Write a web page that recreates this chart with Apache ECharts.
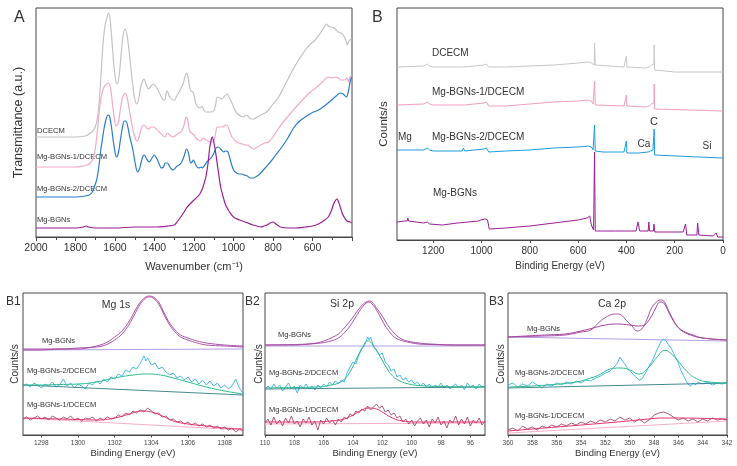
<!DOCTYPE html>
<html><head><meta charset="utf-8">
<script src="https://cdn.jsdelivr.net/npm/echarts@6/dist/echarts.min.js"></script>
<style>html,body{margin:0;padding:0;background:#fff}#c{width:737px;height:466px}</style>
</head><body><div id="c"></div>
<script>
// ---------- Panel A: FTIR (wavenumber, relative transmittance) ----------
const A_dcecm = [[2000,100],[1900,100],[1800,100],[1750,101],[1730,103],[1712,106],[1700,110],[1690,118],[1680,135],[1670,165],[1660,195],[1650,212],[1640,220],[1633,224],[1625,218],[1615,195],[1605,170],[1595,155],[1590,153],[1580,160],[1570,180],[1560,200],[1550,208],[1540,203],[1530,188],[1520,170],[1510,152],[1500,138],[1490,133],[1480,138],[1470,150],[1460,156],[1452,158],[1442,152],[1430,148],[1418,151],[1405,153],[1395,151],[1385,148],[1375,144],[1365,140],[1355,137],[1348,137],[1340,145],[1335,146],[1328,142],[1318,139],[1308,137],[1298,137],[1288,141],[1278,144],[1265,149],[1255,153],[1246,160],[1238,164],[1230,160],[1222,150],[1215,146],[1205,145],[1198,140],[1190,133],[1180,130],[1170,129],[1160,131],[1150,127],[1140,125],[1120,125],[1100,126],[1090,133],[1083,140],[1070,139],[1058,138],[1045,141],[1033,143],[1020,139],[1008,134],[995,128],[983,124],[965,121],[950,120],[935,122],[922,120],[910,118],[897,118],[880,120],[862,122],[840,124],[822,127],[800,133],[771,140],[745,150],[721,159],[700,167],[671,177],[650,183],[637,187],[610,193],[586,197],[560,204],[540,210],[530,213],[520,211],[505,210],[490,209],[470,205],[455,204],[444,202],[432,197],[424,192],[416,196],[410,197],[402,199]];
const A_mg1 = [[2000,70],[1900,70],[1800,70],[1760,71],[1740,72],[1725,74],[1712,78],[1700,88],[1690,105],[1680,125],[1670,140],[1660,148],[1648,152],[1633,154],[1622,148],[1612,132],[1603,118],[1595,111],[1585,113],[1575,125],[1565,137],[1555,143],[1547,144],[1537,138],[1525,124],[1512,110],[1500,100],[1488,96],[1478,100],[1468,108],[1458,112],[1451,112],[1440,109],[1430,108],[1418,110],[1405,110],[1392,108],[1380,106],[1365,103],[1350,100],[1345,100],[1337,104],[1328,103],[1318,101],[1305,100],[1290,102],[1275,104],[1262,106],[1250,112],[1240,120],[1232,117],[1222,106],[1212,104],[1200,102],[1190,99],[1178,97],[1165,96],[1155,99],[1145,98],[1130,96],[1115,95],[1100,96],[1090,104],[1083,110],[1070,110],[1055,110],[1040,112],[1033,112],[1020,106],[1008,100],[990,96],[975,94],[955,93],[940,92],[930,92],[915,90],[897,88],[880,90],[862,92],[840,94],[822,95],[800,100],[771,109],[740,117],[705,125],[670,133],[637,140],[610,145],[578,150],[550,155],[520,160],[500,159],[485,160],[470,159],[455,157],[437,157],[425,159],[418,155],[410,160],[402,161]];
const A_mg2 = [[2000,40],[1900,40],[1800,40],[1750,41],[1730,42],[1715,45],[1705,50],[1693,57],[1682,70],[1672,87],[1662,100],[1655,109],[1645,118],[1635,122],[1628,121],[1618,110],[1608,95],[1598,83],[1592,80],[1582,85],[1572,98],[1562,110],[1553,116],[1545,116],[1535,110],[1525,100],[1510,88],[1498,74],[1486,65],[1476,68],[1466,76],[1458,81],[1451,82],[1440,78],[1426,75],[1413,79],[1400,82],[1390,79],[1378,74],[1366,69],[1355,70],[1345,74],[1335,74],[1325,71],[1315,68],[1305,67],[1295,69],[1285,71],[1275,72],[1262,75],[1250,81],[1238,88],[1228,84],[1217,74],[1210,75],[1203,77],[1195,74],[1185,70],[1175,69],[1165,70],[1158,69],[1145,72],[1135,75],[1124,77],[1110,80],[1099,84],[1088,89],[1077,90],[1065,88],[1050,85],[1040,86],[1028,85],[1015,76],[1000,67],[985,64],[970,63],[958,63],[945,62],[930,61],[916,59],[900,59],[880,61],[862,64],[840,69],[813,75],[790,81],[755,90],[725,99],[696,109],[665,116],[637,120],[605,124],[570,127],[540,131],[503,137],[480,141],[461,144],[445,143],[428,140],[418,146],[410,155],[402,160]];
const A_bgn = [[2000,9],[1900,9],[1800,9],[1760,10],[1745,11],[1735,10],[1700,9],[1600,9],[1500,10],[1400,10],[1330,11],[1300,12],[1290,14],[1275,18],[1260,22],[1250,25],[1238,29],[1225,32],[1200,37],[1174,42],[1160,47],[1150,53],[1140,60],[1130,72],[1120,90],[1112,98],[1107,100],[1100,95],[1090,84],[1080,70],[1065,50],[1052,40],[1040,32],[1020,25],[1000,20],[970,17],[941,15],[900,12],[862,10],[845,11],[830,12],[815,14],[800,15],[785,13],[763,10],[720,9],[688,9],[637,10],[600,11],[570,13],[545,16],[520,20],[505,26],[491,34],[482,37],[475,38],[468,35],[458,29],[448,23],[437,19],[425,16],[410,15],[402,14]];

// ---------- Panel B: XPS survey (binding energy, counts) ----------
const B_dcecm = [[1350,173],[1240,174],[1225,176],[1215,174],[1200,173],[1080,173],[1075,175],[1070,173],[990,175],[980,176],[970,173],[964,172],[900,173],[800,174],[700,175],[600,177],[558,178],[545,177],[538,175],[533,175],[532,197],[530,197],[529,175],[525,173],[410,173],[402,173],[400,184],[398,173],[320,172],[305,173],[296,175],[290,176],[286,176],[285,195],[284,195],[283,170],[280,168],[200,168],[0,168]];
const B_mg1 = [[1350,135],[1240,136],[1225,138],[1215,136],[1200,135],[1080,135],[1075,137],[1070,135],[990,137],[980,138],[970,134],[964,133],[900,134],[800,136],[700,138],[600,139],[558,140],[545,139],[538,136],[533,136],[532,159],[530,159],[529,135],[525,134],[410,134],[402,134],[400,145],[398,134],[320,133],[305,134],[296,136],[290,137],[286,137],[285,156],[284,156],[283,131],[280,129],[0,129]];
const B_mg2 = [[1350,90],[1240,90],[1225,92],[1215,90],[1200,89],[1080,89],[1075,92],[1070,89],[990,91],[980,92],[970,88],[964,88],[900,89],[800,90],[700,92],[600,93],[558,94],[545,93],[538,90],[533,90],[532,115],[530,115],[529,89],[525,88],[497,88],[495,90],[493,88],[410,88],[402,88],[400,99],[398,87],[350,87],[347,88],[344,87],[310,88],[300,89],[290,90],[286,91],[285,111],[284,111],[283,85],[280,84],[100,83],[0,82]];
const B_bgn = [[1350,18],[1320,19],[1308,19],[1305,22],[1302,19],[1240,17],[1225,18],[1215,16],[1162,15],[1100,17],[1013,19],[1003,20],[1000,22],[995,20],[985,21],[980,23],[975,20],[968,11],[900,12],[800,14],[700,17],[600,20],[563,22],[552,24],[545,15],[536,10],[533,10],[532,88],[530,88],[529,9],[520,9],[445,9],[440,11],[435,9],[360,9],[352,18],[348,18],[345,9],[310,9],[307,18],[304,9],[288,9],[286,16],[284,16],[282,8],[165,8],[160,8],[155,16],[153,16],[150,5],[108,5],[105,17],[103,17],[100,5],[40,4],[28,7],[25,7],[22,3],[0,3]];

// ---------- Panel B1: Mg 1s ----------
const B1_bgnData = [[1297,85],[1298,85],[1299,86],[1300,86],[1300.5,87],[1301,89],[1301.5,92],[1302,98],[1302.4,104],[1302.8,114],[1303.1,124],[1303.4,133],[1303.7,138],[1303.9,139],[1304.1,138],[1304.4,133],[1304.7,122],[1305,112],[1305.3,105],[1305.6,100],[1306,97],[1306.5,94],[1307,92],[1308,90],[1309,89]];
const B1_bgnFit = [[1297,86],[1298,86],[1299,86],[1300,87],[1301,88],[1301.5,90],[1302,95],[1302.4,101],[1302.8,111],[1303.1,121],[1303.4,131],[1303.7,137],[1303.9,138],[1304.1,137],[1304.4,131],[1304.7,120],[1305,110],[1305.3,103],[1305.6,98],[1306,95],[1306.5,92],[1307,90],[1308,89],[1309,88]];
const B1_bgnBase = [[1297,85],[1309,86]];
const B1_mg2Data = [[1297,49],[1297.2,51],[1297.4,48],[1297.6,52],[1297.8,50],[1298,47],[1298.2,51],[1298.4,49],[1298.6,53],[1298.8,48],[1299,50],[1299.2,56],[1299.4,49],[1299.6,52],[1299.8,47],[1300,51],[1300.2,49],[1300.4,46],[1300.6,52],[1300.8,50],[1301,54],[1301.2,51],[1301.4,56],[1301.6,53],[1301.8,58],[1302,56],[1302.2,61],[1302.4,59],[1302.6,65],[1302.8,63],[1303,68],[1303.2,66],[1303.4,72],[1303.6,79],[1303.7,74],[1303.8,77],[1304,70],[1304.2,72],[1304.4,66],[1304.6,68],[1304.8,63],[1305,60],[1305.2,62],[1305.4,57],[1305.6,59],[1305.8,55],[1306,58],[1306.2,53],[1306.4,56],[1306.6,51],[1306.8,55],[1307,50],[1307.2,54],[1307.4,49],[1307.6,52],[1307.8,47],[1308,50],[1308.2,46],[1308.4,49],[1308.6,56],[1308.8,47],[1309,42]];
const B1_mg2Fit = [[1297,50],[1298,50],[1299,50.5],[1300,51],[1301,53],[1302,57],[1303,60],[1303.8,61],[1304.5,60],[1305,58],[1306,53],[1307,48],[1308,44],[1309,41]];
const B1_mg2Base = [[1297,50],[1309,40]];
const B1_mg1Data = [[1297,16],[1297.2,18],[1297.4,15],[1297.6,17],[1297.8,19],[1298,16],[1298.2,18],[1298.4,15],[1298.6,19],[1298.8,17],[1299,15],[1299.2,18],[1299.4,16],[1299.6,19],[1299.8,15],[1300,17],[1300.2,14],[1300.4,17],[1300.6,16],[1300.8,18],[1301,14],[1301.2,17],[1301.4,15],[1301.6,18],[1301.8,16],[1302,17],[1302.2,20],[1302.4,18],[1302.6,22],[1302.8,20],[1303,24],[1303.2,22],[1303.4,25],[1303.6,23],[1303.8,27],[1304,24],[1304.2,21],[1304.4,22],[1304.6,18],[1304.8,19],[1305,15],[1305.2,16],[1305.4,13],[1305.6,14],[1305.8,11],[1306,13],[1306.2,10],[1306.4,12],[1306.6,9],[1306.8,11],[1307,8],[1307.2,10],[1307.4,7],[1307.6,9],[1307.8,6],[1308,8],[1308.2,5],[1308.4,7],[1308.6,3],[1308.8,6],[1309,4]];
const B1_mg1Fit = [[1297,17],[1298,16.5],[1299,16],[1300,15.5],[1301,15],[1302,17],[1302.8,21],[1303.5,24],[1304,23],[1304.6,19],[1305.2,14],[1306,11],[1307,9],[1308,7],[1309,6]];
const B1_mg1Base = [[1297,17],[1309,5]];

// ---------- Panel B2: Si 2p ----------
const B2_bgnData = [[110,90],[108,90],[107,91],[106.2,93],[105.5,97],[105,101],[104.6,107],[104.2,114],[103.9,120],[103.6,126],[103.3,131],[103.1,133],[102.9,134],[102.7,133],[102.4,127],[102.1,121],[101.8,114],[101.5,107],[101.2,102],[100.8,97],[100.3,94],[99.5,92],[98.7,91],[97,90],[95,90]];
const B2_bgnFit = [[110,90],[108,90.5],[107,91],[106.2,92],[105.5,94],[105,97],[104.6,102],[104.2,109],[103.9,116],[103.6,123],[103.3,129],[103.1,132],[102.9,133],[102.7,131],[102.4,125],[102.1,117],[101.8,109],[101.5,103],[101.2,98],[100.8,95],[100.3,93],[99.5,91],[98.7,90.5],[97,90],[95,90]];
const B2_bgnBase = [[110,89],[95,89]];
const B2_mg2Data = [[110,45],[109.8,49],[109.6,46],[109.4,51],[109.2,47],[109,50],[108.8,44],[108.6,48],[108.4,52],[108.2,46],[108,49],[107.8,42],[107.6,50],[107.4,47],[107.2,51],[107,46],[106.8,49],[106.6,45],[106.4,50],[106.2,47],[106,51],[105.8,48],[105.6,53],[105.4,50],[105.2,54],[105,51],[104.8,55],[104.6,53],[104.4,62],[104.2,68],[104,73],[103.8,71],[103.6,80],[103.4,86],[103.2,90],[103.1,94],[103,98],[102.9,95],[102.8,98],[102.6,88],[102.4,85],[102.2,80],[102,82],[101.8,73],[101.6,70],[101.4,64],[101.2,66],[101,58],[100.8,60],[100.6,55],[100.4,57],[100.2,53],[100,55],[99.8,51],[99.6,53],[99.4,49],[99.2,52],[99,48],[98.8,51],[98.6,47],[98.4,50],[98.2,48],[98,52],[97.8,47],[97.6,50],[97.4,46],[97.2,49],[97,51],[96.8,47],[96.6,50],[96.4,45],[96.2,52],[96,48],[95.8,50],[95.6,46],[95.4,51],[95.2,48],[95,49]];
const B2_mg2Fit = [[110,47],[108,47.5],[106.5,48],[105.5,50],[105,52],[104.5,57],[104.1,66],[103.7,78],[103.3,89],[103,94],[102.8,93],[102.5,87],[102.1,77],[101.7,67],[101.3,59],[100.8,54],[100.2,51],[99.5,49.5],[98,48.5],[95,48]];
const B2_mg2Base = [[110,46],[95,48]];
const B2_mg1Data = [[110,12],[109.8,16],[109.6,10],[109.4,18],[109.2,11],[109,15],[108.8,9],[108.6,17],[108.4,12],[108.2,19],[108,11],[107.8,14],[107.6,8],[107.4,16],[107.2,12],[107,18],[106.8,10],[106.6,14],[106.4,5],[106.2,15],[106,11],[105.8,17],[105.6,12],[105.4,15],[105.2,10],[105,16],[104.8,13],[104.6,18],[104.4,16],[104.2,21],[104,19],[103.8,24],[103.6,22],[103.4,26],[103.2,24],[103,29],[102.8,25],[102.6,28],[102.4,31],[102.2,27],[102,29],[101.8,23],[101.6,25],[101.4,20],[101.2,22],[101,17],[100.8,19],[100.6,13],[100.4,16],[100.2,11],[100,15],[99.8,9],[99.6,14],[99.4,17],[99.2,11],[99,15],[98.8,8],[98.6,16],[98.4,12],[98.2,18],[98,10],[97.8,14],[97.6,7],[97.4,15],[97.2,12],[97,19],[96.8,10],[96.6,16],[96.4,11],[96.2,18],[96,9],[95.8,15],[95.6,12],[95.4,17],[95.2,10],[95,14]];
const B2_mg1Fit = [[110,13],[107,13],[105.5,14],[104.6,16],[104,20],[103.4,25],[102.9,27],[102.4,26],[101.9,22],[101.3,17],[100.6,14],[99.5,13],[95,13]];
const B2_mg1Base = [[110,11],[95,12]];

// ---------- Panel B3: Ca 2p ----------
const B3_bgnData = [[360,98],[357,99],[355.3,100],[354,103],[353.2,105],[352.4,114],[351.6,120],[351.1,121],[350.7,120],[350.3,115],[349.8,109],[349.4,104],[349,106],[348.6,115],[348.2,127],[347.8,133],[347.5,135],[347.2,134],[346.9,127],[346.5,117],[346.1,109],[345.6,104],[344.8,100],[344,97],[342,95]];
const B3_bgnFit = [[360,98],[357,100],[355.3,101],[354,104],[353,107],[352,110],[351,111],[350,110],[349.3,109],[348.8,110],[348.3,117],[347.9,126],[347.5,133],[347.2,132],[346.8,123],[346.3,112],[345.8,105],[345,100],[344,97],[342,95]];
const B3_bgnBase = [[360,98],[342,94]];
const B3_mg2Data = [[360,50],[359.6,52],[359.2,48],[358.8,51],[358.4,49],[358,53],[357.6,50],[357.2,47],[356.8,51],[356.4,49],[356,52],[355.6,50],[355.2,53],[354.8,51],[354.4,54],[354,52],[353.6,55],[353.2,54],[352.8,57],[352.4,59],[352,62],[351.6,64],[351.2,69],[351,72],[350.8,78],[350.6,74],[350.4,71],[350.2,67],[350,64],[349.8,62],[349.6,59],[349.4,57],[349.2,55],[349,56],[348.8,60],[348.6,64],[348.4,69],[348.2,73],[348,78],[347.8,84],[347.6,89],[347.4,94],[347.2,96],[347.1,98],[347,94],[346.8,90],[346.6,87],[346.4,82],[346.2,77],[346,72],[345.8,65],[345.6,60],[345.4,55],[345.2,51],[345,49],[344.8,52],[344.6,50],[344.4,53],[344,51],[343.6,53],[343.2,50],[342.8,52],[342.4,51],[342,53]];
const B3_mg2Fit = [[360,48],[355,52],[353,57.7],[351,67],[350,65.3],[349.3,61],[348.5,67],[347.7,78.7],[347.1,84.7],[346.5,80.3],[346,73.7],[345.3,63.7],[344.5,56.3],[343.5,53],[342,52]];
const B3_mg2Base = [[360,47],[342,52]];
const B3_mg1Data = [[360,5],[359.6,7],[359.2,4],[358.8,9],[358.4,6],[358,8],[357.6,5],[357.2,9],[356.8,7],[356.4,10],[356,8],[355.6,11],[355.2,9],[354.8,12],[354.4,10],[354,13],[353.6,11],[353.2,14],[352.8,12],[352.4,15],[352,13],[351.6,16],[351.2,14],[350.8,18],[350.4,15],[350,17],[349.6,13],[349.2,16],[348.8,12],[348.4,15],[348.2,17],[348,20],[347.6,22],[347.2,23],[346.8,21],[346.4,18],[346,15],[345.6,17],[345.2,14],[344.8,16],[344.4,13],[344,16],[343.6,14],[343.2,17],[342.8,15],[342.4,16],[342,15]];
const B3_mg1Fit = [[360,4],[355,9],[351,13],[348.5,16],[347.5,17],[346,17],[342,16]];
const B3_mg1Base = [[360,2],[342,14]];

// tick labels
const B1_ticks = [1298,1300,1302,1304,1306,1308];
const B2_ticks = [110,108,106,104,102,100,98,96];

const FONT = '"Liberation Sans", Arial, sans-serif';
const AX = '#474747';
const TXT = '#333';
const plain = v => String(v);

const chart = echarts.init(document.getElementById('c'), null, {renderer:'canvas'});

function ln(data, color, gi, w, smooth, z){
  return {type:'line', data, xAxisIndex:gi, yAxisIndex:gi, symbol:'none', silent:true,
    smooth: smooth || false, lineStyle:{color, width:w}, itemStyle:{color}, z: z||2, animation:false};
}
function xax(gi, o){
  return Object.assign({gridIndex:gi, type:'value', splitLine:{show:false},
    axisLine:{show:true, onZero:false, lineStyle:{color:AX, width:1}},
    axisTick:{show:true, length:3, lineStyle:{color:AX}},
    nameLocation:'middle', nameTextStyle:{color:TXT, fontFamily:FONT}}, o);
}
function yax(gi, max, name, size, gap){
  return {gridIndex:gi, type:'value', min:0, max, axisLine:{show:false}, axisTick:{show:false},
    axisLabel:{show:false}, splitLine:{show:false}, name, nameLocation:'middle', nameGap:gap,
    nameTextStyle:{color:TXT, fontSize:size, fontFamily:FONT}};
}
function T(text, x, y, size, align){
  return {type:'text', x, y, silent:true, style:{text, font: size+'px '+FONT, fill:TXT, align: align||'left', verticalAlign:'middle'}};
}
const border = {show:true, borderColor:AX, borderWidth:1, backgroundColor:'transparent'};

const C = {grayA:'#c3c3c3', pinkA:'#f5a9c9', blueA:'#2b7dcb', purple:'#9c1d98',
  grayB:'#c8c8c8', pinkB:'#f19fc2', blueB:'#1a9de3',
  p2:'#a3429f', lav:'#a993df', cyan:'#37b2ea', green:'#2cbb8c', teal:'#2f7f86',
  crimson:'#e2336c', maroon:'#9c3253', lpink:'#f3a6c4'};

const smallLab = {fontSize:6.5, color:'#444', fontFamily:FONT, margin:5, formatter:plain};

const option = {
  backgroundColor:'#fff',
  animation:false,
  grid:[
    Object.assign({left:36, top:8, width:316, height:229}, border),
    Object.assign({left:397, top:8, width:326, height:232}, border),
    Object.assign({left:23, top:293, width:220, height:142}, border),
    Object.assign({left:265, top:293, width:220, height:142}, border),
    Object.assign({left:508, top:293, width:219, height:142}, border)
  ],
  xAxis:[
    xax(0,{min:400, max:2000, interval:200, inverse:true,
      axisTick:{show:true, length:4, lineStyle:{color:AX}},
      minorTick:{show:true, splitNumber:2, length:3, lineStyle:{color:AX}},
      axisLabel:{fontSize:10.5, color:TXT, fontFamily:FONT, margin:6, showMinLabel:false, interval:0, formatter:plain},
      name:'Wavenumber (cm⁻¹)', nameGap:24, nameTextStyle:{color:TXT, fontSize:11, fontFamily:FONT}}),
    xax(1,{min:0, max:1350, interval:200, inverse:true,
      axisLabel:{fontSize:10, color:TXT, fontFamily:FONT, margin:6, showMaxLabel:false, interval:0, formatter:plain},
      name:'Binding Energy (eV)', nameGap:21, nameTextStyle:{color:TXT, fontSize:10, fontFamily:FONT}}),
    xax(2,{min:1297, max:1309,
      axisLabel:Object.assign({customValues:B1_ticks}, smallLab),
      axisTick:{show:true, length:2.5, customValues:B1_ticks, lineStyle:{color:AX}},
      name:'Binding Energy (eV)', nameGap:13, nameTextStyle:{color:TXT, fontSize:9.5, fontFamily:FONT}}),
    xax(3,{min:95, max:110, inverse:true,
      axisLabel:Object.assign({customValues:B2_ticks}, smallLab),
      axisTick:{show:true, length:2.5, customValues:B2_ticks, lineStyle:{color:AX}},
      name:'Binding Energy (eV)', nameGap:13, nameTextStyle:{color:TXT, fontSize:9.5, fontFamily:FONT}}),
    xax(4,{min:342, max:360, interval:2, inverse:true,
      axisLabel:Object.assign({interval:0}, smallLab),
      axisTick:{show:true, length:2.5, lineStyle:{color:AX}},
      name:'Binding Energy (eV)', nameGap:13, nameTextStyle:{color:TXT, fontSize:9.5, fontFamily:FONT}})
  ],
  yAxis:[
    yax(0, 229, 'Transmittance (a.u.)', 12.5, 11),
    yax(1, 232, 'Counts/s', 11.5, 7),
    yax(2, 142, 'Counts/s', 10, 2.5),
    yax(3, 142, 'Counts/s', 10, 1),
    yax(4, 142, 'Counts/s', 10, 2)
  ],
  series:[
    ln(A_dcecm, C.grayA, 0, 1.2, 0.3),
    ln(A_mg1, C.pinkA, 0, 1.2, 0.3),
    ln(A_mg2, C.blueA, 0, 1.2, 0.3),
    ln(A_bgn, C.purple, 0, 1.2, 0.3),

    ln(B_dcecm, C.grayB, 1, 1),
    ln(B_mg1, C.pinkB, 1, 1),
    ln(B_mg2, C.blueB, 1, 1),
    ln(B_bgn, C.purple, 1, 1),

    ln(B1_bgnBase, C.lav, 2, 0.9),
    ln(B1_bgnData, C.p2, 2, 0.9, 0.4),
    ln(B1_bgnFit, C.p2, 2, 0.9, 0.4),
    ln(B1_mg2Data, C.cyan, 2, 0.9),
    ln(B1_mg2Base, C.teal, 2, 0.9),
    ln(B1_mg2Fit, C.green, 2, 1, 0.5),
    ln(B1_mg1Base, C.lpink, 2, 0.9),
    ln(B1_mg1Data, C.maroon, 2, 0.8),
    ln(B1_mg1Fit, C.crimson, 2, 1, 0.5),

    ln(B2_bgnBase, C.lav, 3, 0.9),
    ln(B2_bgnData, C.p2, 3, 0.9, 0.4),
    ln(B2_bgnFit, C.p2, 3, 0.9, 0.4),
    ln(B2_mg2Data, C.cyan, 3, 0.9),
    ln(B2_mg2Base, C.teal, 3, 0.9),
    ln(B2_mg2Fit, C.green, 3, 1, 0.5),
    ln(B2_mg1Base, C.lpink, 3, 0.9),
    ln(B2_mg1Data, C.maroon, 3, 0.8),
    ln(B2_mg1Fit, C.crimson, 3, 1, 0.5),

    ln(B3_bgnBase, C.lav, 4, 0.9),
    ln(B3_bgnData, C.p2, 4, 0.9, 0.4),
    ln(B3_bgnFit, C.p2, 4, 1, 0.4),
    ln(B3_mg2Data, C.cyan, 4, 0.9),
    ln(B3_mg2Base, C.teal, 4, 0.9),
    ln(B3_mg2Fit, C.green, 4, 1, 0.5),
    ln(B3_mg1Base, C.lpink, 4, 0.9),
    ln(B3_mg1Data, C.maroon, 4, 0.8),
    ln(B3_mg1Fit, C.crimson, 4, 1, 0.3)
  ],
  graphic:[
    T('A', 14, 18, 16), T('B', 372, 18, 16),
    T('B1', 6, 302, 12), T('B2', 245, 302, 12), T('B3', 489, 302, 12),
    T('DCECM', 37, 131, 7.6), T('Mg-BGNs-1/DCECM', 37, 157, 7.6),
    T('Mg-BGNs-2/DCECM', 37, 189, 7.6), T('Mg-BGNs', 37, 220, 7.6),
    T('DCECM', 432, 53, 10), T('Mg-BGNs-1/DCECM', 432, 92, 10),
    T('Mg-BGNs-2/DCECM', 432, 137, 10), T('Mg-BGNs', 433, 193, 10),
    T('Mg', 398, 137, 10), T('C', 654, 122, 11, 'center'), T('Ca', 644, 144, 10, 'center'), T('Si', 707, 146, 10, 'center'),
    T('Mg 1s', 116, 305, 10.5, 'center'), T('Mg-BGNs', 42, 341, 7.5),
    T('Mg-BGNs-2/DCECM', 27, 371, 7.5), T('Mg-BGNs-1/DCECM', 27, 405, 7.5),
    T('Si 2p', 342, 304, 10.5, 'center'), T('Mg-BGNs', 278, 335, 7.5),
    T('Mg-BGNs-2/DCECM', 269, 373, 7.5), T('Mg-BGNs-1/DCECM', 269, 410, 7.5),
    T('Ca 2p', 612, 304, 10.5, 'center'), T('Mg-BGNs', 527, 329, 7.5),
    T('Mg-BGNs-2/DCECM', 515, 373, 7.5), T('Mg-BGNs-1/DCECM', 515, 416, 7.5)
  ]
};
chart.setOption(option);
</script></body></html>
